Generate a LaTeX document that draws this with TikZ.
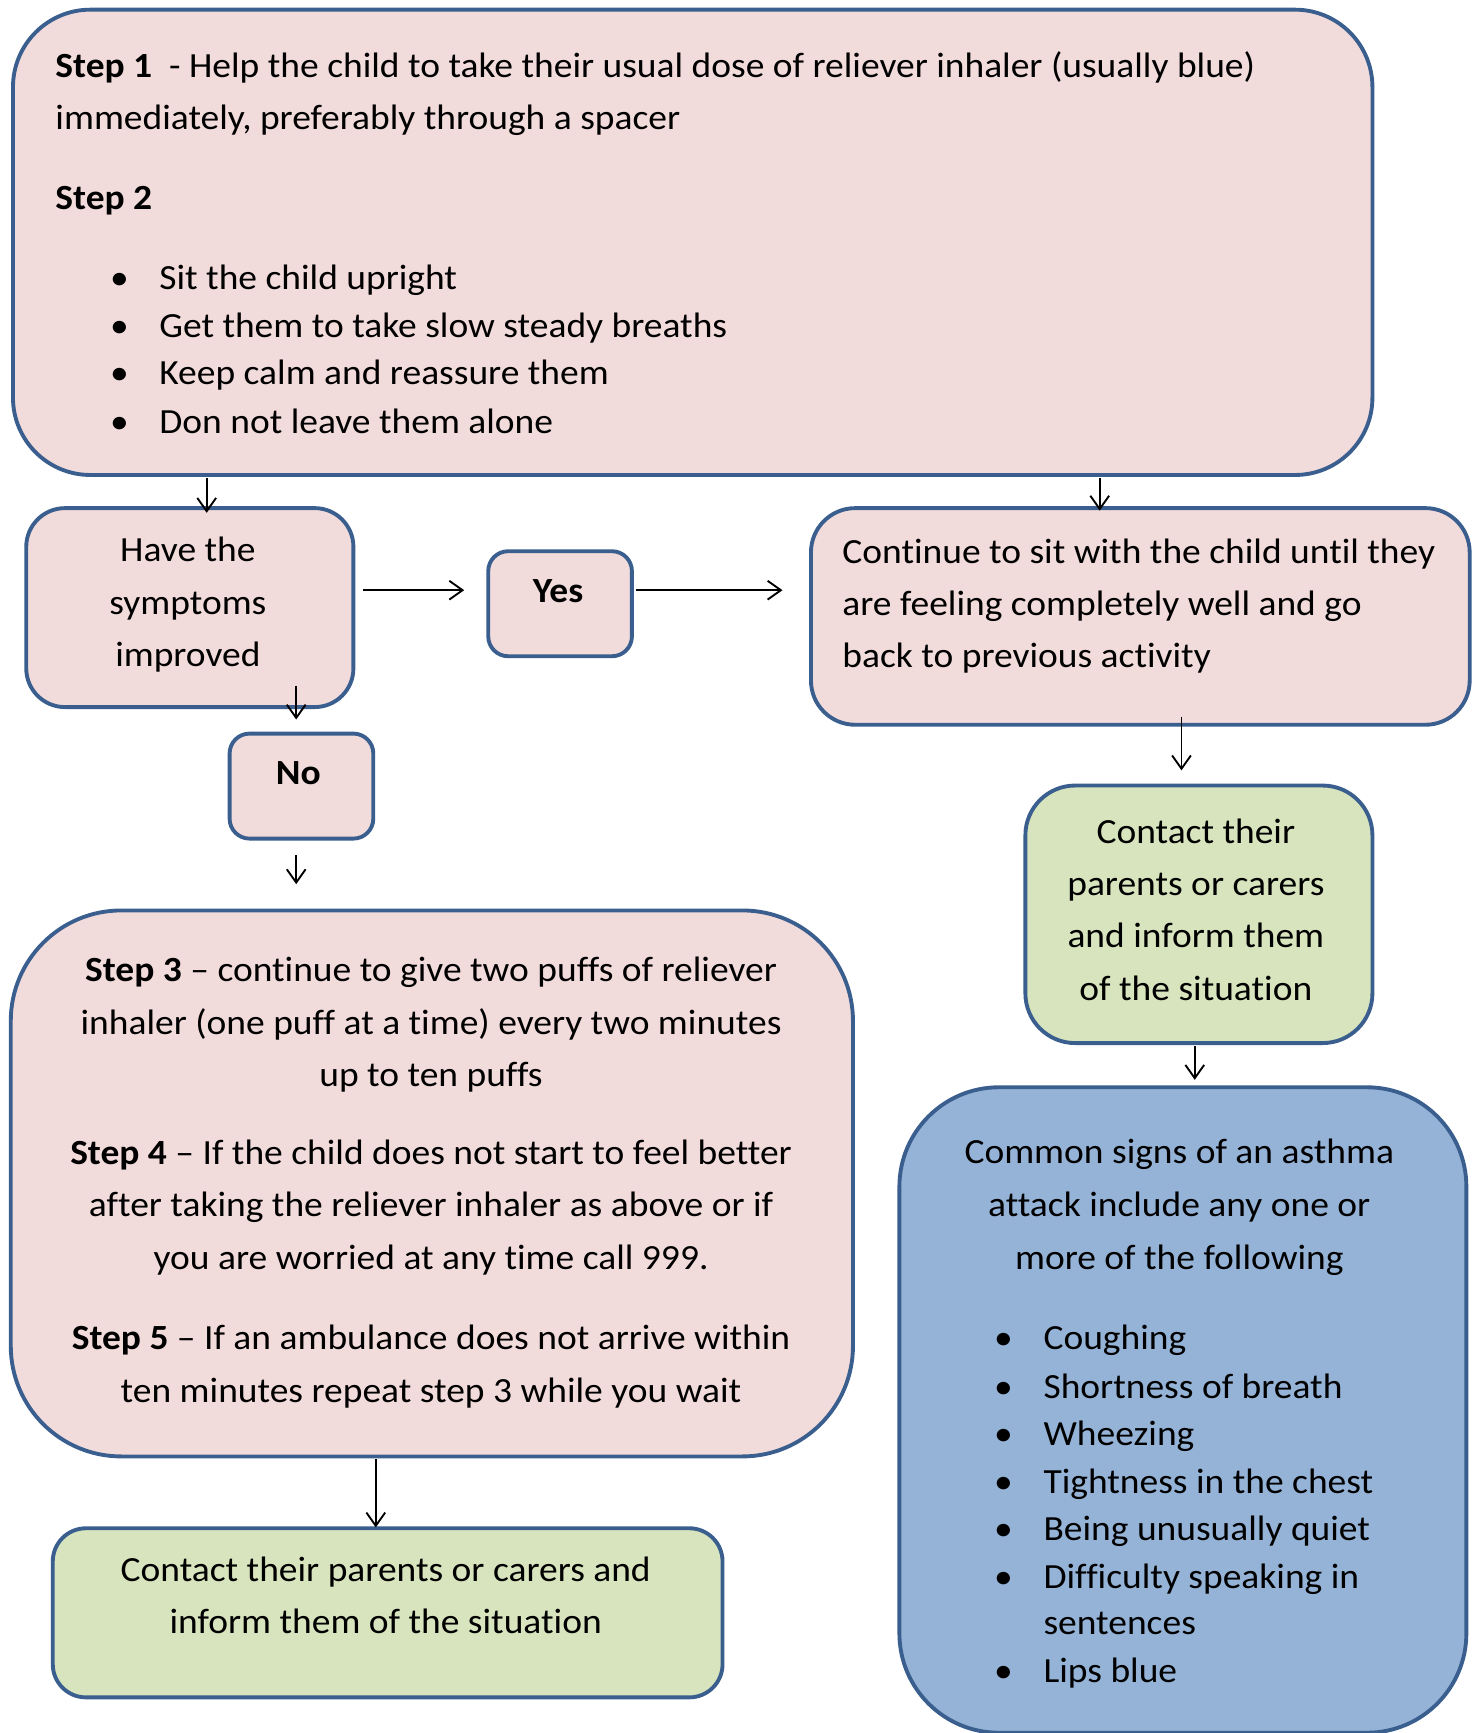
\documentclass[tikz,border=0pt]{standalone}
\usepackage{fontspec}
\setmainfont{Carlito}[FakeStretch=1.06, Ligatures=NoCommon]
\usetikzlibrary{arrows.meta}
\definecolor{pinkf}{HTML}{F2DCDB}
\definecolor{greenf}{HTML}{D7E4BD}
\definecolor{bluef}{HTML}{95B3D7}
\definecolor{edge}{HTML}{3A5F8F}
\begin{document}
\begin{tikzpicture}[x=1pt,y=-1pt,
  box/.style={draw=edge, line width=3.5pt, inner sep=0pt, anchor=north west},
  pinkbox/.style={box, fill=pinkf},
  greenbox/.style={box, fill=greenf},
  bluebox/.style={box, fill=bluef},
  txt/.style={font=\fontsize{32}{38}\selectfont, inner sep=0pt, anchor=base west},
  ctxt/.style={txt, anchor=base},
  bul/.style={txt, anchor=base},
  arr/.style={-{Straight Barb[length=12pt,width=17pt]}, line width=1.7pt}
]
\useasboundingbox (0,0) rectangle (1335,1568);
\fill[white] (0,0) rectangle (1335,1568);

% boxes
\node[pinkbox, minimum width=1230pt, minimum height=421pt, rounded corners=70pt] (b1) at (10,7) {};
\node[pinkbox, minimum width=296pt, minimum height=180pt, rounded corners=35pt] (have) at (22,458) {};
\node[pinkbox, minimum width=130pt, minimum height=95pt, rounded corners=18pt] (yes) at (440,497) {};
\node[pinkbox, minimum width=596pt, minimum height=196pt, rounded corners=40pt] (cont) at (732,458) {};
\node[pinkbox, minimum width=130pt, minimum height=95pt, rounded corners=18pt] (no) at (206,662) {};
\node[pinkbox, minimum width=762pt, minimum height=494pt, rounded corners=100pt] (s3) at (8,822) {};
\node[greenbox, minimum width=606pt, minimum height=153pt, rounded corners=30pt] (gl) at (46,1381) {};
\node[greenbox, minimum width=314pt, minimum height=233pt, rounded corners=45pt] (gr) at (926,709) {};
\node[bluebox, minimum width=513pt, minimum height=584pt, rounded corners=90pt] (bl) at (812,982) {};

% box 1 text
\node[txt] (t1a) at (50,70) {\textbf{Step 1}~~- Help the child to take their usual dose of reliever inhaler (usually blue)};
\node[txt] (t1b) at (50,117) {immediately, preferably through a spacer};
\node[txt] (t1c) at (50,190) {\textbf{Step 2}};
\node[bul] (p1a) at (108,262) {•};
\node[bul] (p1b) at (108,305) {•};
\node[bul] (p1c) at (108,348) {•};
\node[bul] (p1d) at (108,392) {•};
\node[txt] (t1d) at (144,262) {Sit the child upright};
\node[txt] (t1e) at (144,305) {Get them to take slow steady breaths};
\node[txt] (t1f) at (144,348) {Keep calm and reassure them};
\node[txt] (t1g) at (144,392) {Don not leave them alone};

% have
\node[ctxt] (th1) at (170,508) {Have the};
\node[ctxt] (th2) at (170,556) {symptoms};
\node[ctxt] (th3) at (170,603) {improved};
\node[ctxt] (ty) at (505,545) {\textbf{Yes}};
\node[ctxt] (tn) at (270,710) {\textbf{No}};

% continue
\node[txt] (tc1) at (762,510) {Continue to sit with the child until they};
\node[txt] (tc2) at (762,557) {are feeling completely well and go};
\node[txt] (tc3) at (762,604) {back to previous activity};

% step 3
\node[ctxt] (ts1) at (390,888) {\textbf{Step 3} – continue to give two puffs of reliever};
\node[ctxt] (ts2) at (390,936) {inhaler (one puff at a time) every two minutes};
\node[ctxt] (ts3) at (390,983) {up to ten puffs};
\node[ctxt] (ts4) at (390,1054) {\textbf{Step 4} – If the child does not start to feel better};
\node[ctxt] (ts5) at (390,1101) {after taking the reliever inhaler as above or if};
\node[ctxt] (ts6) at (390,1149) {you are worried at any time call 999.};
\node[ctxt] (ts7) at (390,1221) {\textbf{Step 5} – If an ambulance does not arrive within};
\node[ctxt] (ts8) at (390,1269) {ten minutes repeat step 3 while you wait};

% green left
\node[ctxt] (tg1) at (349,1431) {Contact their parents or carers and};
\node[ctxt] (tg2) at (349,1478) {inform them of the situation};

% green right
\node[ctxt] (tr1) at (1082,763) {Contact their};
\node[ctxt] (tr2) at (1082,810) {parents or carers};
\node[ctxt] (tr3) at (1082,857) {and inform them};
\node[ctxt] (tr4) at (1082,905) {of the situation};

% blue
\node[ctxt] (tb1) at (1067,1053) {Common signs of an asthma};
\node[ctxt] (tb2) at (1067,1101) {attack include any one or};
\node[ctxt] (tb3) at (1067,1149) {more of the following};
\foreach \yy/\nm in {1221/a,1265/b,1308/c,1351/d,1394/e,1437/f,1522/g}
  \node[bul] (pb\nm) at (908,\yy) {•};
\node[txt] (tb4) at (944,1221) {Coughing};
\node[txt] (tb5) at (944,1265) {Shortness of breath};
\node[txt] (tb6) at (944,1308) {Wheezing};
\node[txt] (tb7) at (944,1351) {Tightness in the chest};
\node[txt] (tb8) at (944,1394) {Being unusually quiet};
\node[txt] (tb9) at (944,1437) {Difficulty speaking in};
\node[txt] (tb10) at (944,1479) {sentences};
\node[txt] (tb11) at (944,1522) {Lips blue};

% connectors
\coordinate (xa) at (187,0);
\coordinate (xb) at (995,0);
\coordinate (xc) at (268,0);
\coordinate (xd) at (340,0);
\coordinate (xe) at (1069,0);
\coordinate (xf) at (1081,0);
\coordinate (ya) at (0,534);
\draw[arr] ([yshift=-1pt]b1.south -| xa) -- ([yshift=-6pt]have.north -| xa);
\draw[arr] ([yshift=-1pt]b1.south -| xb) -- ([yshift=-4pt]cont.north -| xb);
\draw[arr] ([xshift=7pt]have.east |- ya) -- ([xshift=-20pt]yes.west |- ya);
\draw[arr] ([xshift=2pt]yes.east |- ya) -- ([xshift=-24pt]cont.west |- ya);
\draw[arr] ([yshift=21pt]have.south -| xc) -- ([yshift=11pt]no.north -| xc);
\draw[arr] ([yshift=-13pt]no.south -| xc) -- ([yshift=22pt]s3.north -| xc);
\draw[arr] ([yshift=-1pt]s3.south -| xd) -- ([yshift=-1pt]gl.north -| xd);
\draw[arr] ([yshift=9pt]cont.south -| xe) -- ([yshift=12pt]gr.north -| xe);
\draw[arr] ([yshift=-1pt]gr.south -| xf) -- ([yshift=5pt]bl.north -| xf);
\end{tikzpicture}
\end{document}
